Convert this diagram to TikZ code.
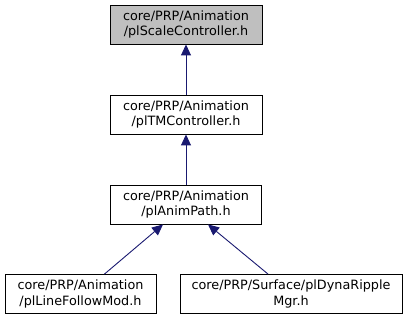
\documentclass[tikz,border=0pt]{standalone}
\usepackage{fontspec}
\setmainfont{DejaVu Sans}
\usetikzlibrary{arrows.meta,positioning}

\definecolor{edgeblue}{HTML}{191970}

\tikzset{
    hdr/.style={draw=black, line width=0.9pt, fill=white, align=center,
        minimum height=39pt, inner sep=2pt,
        font=\fontsize{12.8}{15.5}\selectfont},
    cur/.style={hdr, fill=gray!50},
    dep/.style={draw=edgeblue, line width=0.9pt,
        {Triangle[length=11pt,width=10pt]}-}
}

\begin{document}
\begin{tikzpicture}[x=1pt,y=-1pt]
    \useasboundingbox (0,0) rectangle (408,320);

    % include chain, top down
    \node[cur, minimum width=152pt] (scale) at (186,24.5) {core/PRP/Animation\\/plScaleController.h};
    \node[hdr, minimum width=152pt] (tmctl) at (186,114.5) {core/PRP/Animation\\/plTMController.h};
    \node[hdr, minimum width=151pt] (path) at (186,204.5) {core/PRP/Animation\\/plAnimPath.h};

    % users of plAnimPath.h
    \node[hdr, minimum width=151pt] (follow) at (80.5,294) {core/PRP/Animation\\/plLineFollowMod.h};
    \node[hdr, minimum width=222pt] (ripple) at (291,294) {core/PRP/Surface/plDynaRipple\\Mgr.h};

    % arrows point at the included file
    \draw[dep] (scale) -- (tmctl);
    \draw[dep] (tmctl) -- (path);
    \draw[dep] ([xshift=-23pt]path.south) -- ([xshift=24pt]follow.north);
    \draw[dep] ([xshift=22pt]path.south) -- ([xshift=-23pt]ripple.north);

\end{tikzpicture}
\end{document}
